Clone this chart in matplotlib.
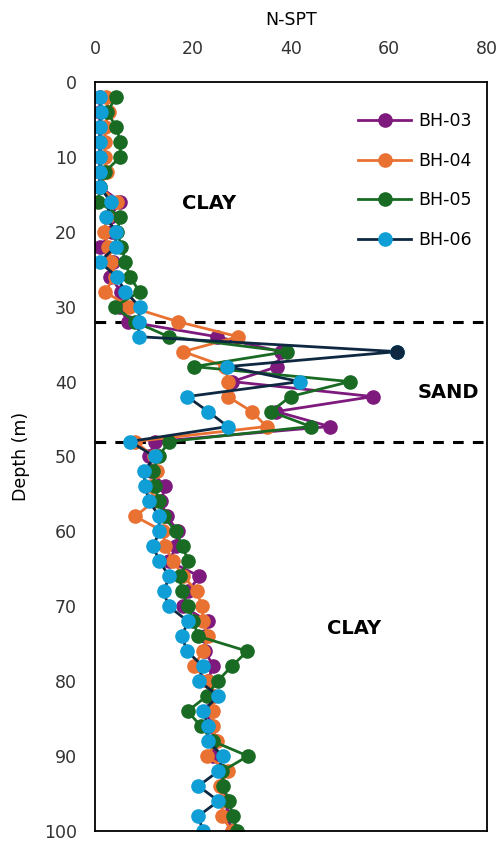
import matplotlib
matplotlib.use("Agg")
import matplotlib.pyplot as plt

depth = list(range(2, 101, 2))

bh03 = [1, 1, 1, 1, 1, 1, 1, 5.2, 3, 3.5,
        1, 3.6, 3, 5.4, 5, 6.7, 24.8, 37.9, 37.2, 28,
        56.7, 37, 47.9, 12.2, 11, 11.5, 14.3, 13.5, 14.6, 17,
        16.5, 15.2, 21.3, 19, 17.9, 23, 22.5, 22.5, 24.1, 23,
        24, 23, 23.5, 24.5, 24, 26, 26, 27, 27, 28]

bh04 = [2.3, 2.8, 2, 2, 2, 2.5, 1, 4.4, 2.5, 1.8,
        2.7, 3.3, 4, 2, 7, 16.9, 29.2, 18, 26.6, 27.1,
        27.1, 32, 35, 8.1, 12, 12.6, 11.5, 12, 8.2, 13.9,
        14.3, 16, 18, 20.8, 21.8, 22.1, 23.1, 22.1, 20.1, 23.1,
        24, 24.1, 24, 24.8, 22.9, 27.2, 25.5, 26, 25.9, 27.9]

bh05 = [4.3, 2.5, 4.3, 5.2, 5.2, 2, 1, 0.7, 5.2, 4.5,
        5.4, 6.2, 7.1, 9.1, 4, 8.1, 15, 39.2, 20.2, 52,
        39.9, 35.9, 44, 15.1, 13, 11.9, 12.2, 13.1, 14, 16.5,
        17.9, 19, 17.3, 17.7, 19, 20, 21.1, 31.1, 27.9, 25,
        22.8, 18.9, 21.6, 24, 31.2, 26, 26.2, 27.3, 28.2, 29]

bh06 = [1, 1.2, 1, 1, 1, 1, 1, 3.2, 2.3, 4.2,
        4.2, 0.95, 4.4, 6.2, 9.1, 8.9, 8.9, 61.7, 27, 41.8,
        18.8, 23.1, 27.1, 7.1, 12.2, 10, 10.2, 11.1, 13.1, 13.1,
        11.9, 13.1, 15.2, 14, 15, 19, 17.7, 18.8, 22, 21.3,
        25.2, 22, 23.1, 23, 26.1, 25.2, 21.1, 25.2, 21.1, 22]

series = ["BH-03", "BH-04", "BH-05", "BH-06"]
layer_bounds = [32, 48]
layer_labels = [("CLAY", 23.3, 16.2), ("SAND", 72.2, 41.5), ("CLAY", 52.9, 72.9)]

c_purple = "#7E1A7D"
c_orange = "#E97132"
c_green = "#196B24"
c_blue = "#0F9ED5"
c_navy = "#0E2841"

fig = plt.figure(figsize=(4.98, 8.42), dpi=100)
ax = fig.add_axes([0.1908, 0.0131, 0.7871, 0.8895])

lw = 2.0
ms = 9.5
ax.plot(bh03, depth, color=c_purple, lw=lw, marker="o", ms=ms, label=series[0])
ax.plot(bh04, depth, color=c_orange, lw=lw, marker="o", ms=ms, label=series[1])
ax.plot(bh05, depth, color=c_green, lw=lw, marker="o", ms=ms, label=series[2])
ax.plot(bh06, depth, color=c_navy, lw=lw, marker="o", ms=ms,
        markerfacecolor=c_blue, markeredgecolor=c_blue, label=series[3])
# highlighted (peak) point of BH-06 drawn in dark colour
imax = bh06.index(max(bh06))
ax.plot([bh06[imax]], [depth[imax]], linestyle="none", marker="o", ms=ms,
        color=c_navy, zorder=5)

for b in layer_bounds:
    ax.axhline(b, color="black", lw=2.2, linestyle=(0, (3.5, 3)), zorder=1)

for txt, x, y in layer_labels:
    ax.text(x, y, txt, fontsize=14, fontweight="bold", ha="center", va="center")

ax.set_xlim(0, 80)
ax.set_ylim(100, 0)
ax.set_xticks([0, 20, 40, 60, 80])
ax.set_yticks(range(0, 101, 10))
ax.xaxis.tick_top()
ax.xaxis.set_label_position("top")
ax.tick_params(axis="x", length=0, pad=17, labelsize=12.5)
ax.tick_params(axis="y", length=0, pad=13, labelsize=12.5)
for lab in ax.get_xticklabels() + ax.get_yticklabels():
    lab.set_color("#333333")
ax.set_xlabel("N-SPT", fontsize=12.5, labelpad=11)
ax.set_ylabel("Depth (m)", fontsize=12.5, labelpad=10)
for sp in ax.spines.values():
    sp.set_linewidth(1.3)
    sp.set_color("black")

ax.legend(loc="upper left", bbox_to_anchor=(0.67, 0.96), frameon=False,
          fontsize=12.5, handlelength=3.1, labelspacing=1.25, borderpad=0,
          borderaxespad=0, handletextpad=0.4)

fig.savefig("out.png", dpi=100)
